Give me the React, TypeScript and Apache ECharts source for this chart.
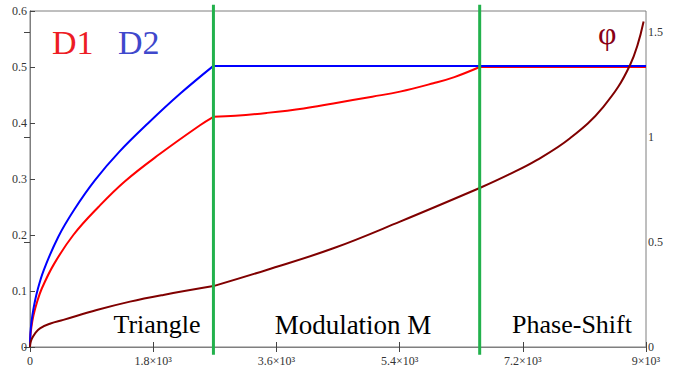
import React, { useEffect, useRef } from "react";
import * as echarts from "echarts";

// Duty cycles D1, D2 (left axis) and phase phi (right axis) versus x
const d1X = [0, 5, 20, 50, 100, 171, 350, 633, 1000, 1388, 1900, 2484, 2680, 3000, 3458, 4000, 4432, 5000, 5406, 5893, 6200, 6570, 9000];
const d1Y = [0, 0.018, 0.035, 0.056, 0.079, 0.104, 0.148, 0.2, 0.25, 0.296, 0.345, 0.396, 0.411, 0.413, 0.418, 0.426, 0.435, 0.447, 0.456, 0.471, 0.482, 0.5, 0.5];

const d2X = [0, 5, 20, 50, 107, 200, 414, 650, 950, 1300, 1729, 2200, 2680, 9000];
const d2Y = [0, 0.022, 0.043, 0.068, 0.1, 0.137, 0.197, 0.246, 0.298, 0.348, 0.4, 0.453, 0.502, 0.502];

const phiX = [0, 3, 10, 30, 70, 146, 300, 487, 975, 1461, 1948, 2680, 3458, 4432, 5406, 6570, 7000, 7403, 7890, 8377, 8767, 8965];
const phiY = [0, 0.013, 0.024, 0.042, 0.063, 0.089, 0.112, 0.129, 0.176, 0.216, 0.248, 0.29, 0.367, 0.47, 0.597, 0.757, 0.822, 0.89, 0.994, 1.144, 1.343, 1.55];

// Region boundaries (green vertical lines)
const regionBounds = [2680, 6570];
const regionLineY = [-0.014, 0.611];

const regionNames = ["Triangle", "Modulation M", "Phase-Shift"];

const xTickLabels: Record<number, string> = {
  0: "0",
  1800: "1.8×10³",
  3600: "3.6×10³",
  5400: "5.4×10³",
  7200: "7.2×10³",
  9000: "9×10³",
};

const SERIF = "'Liberation Serif', 'DejaVu Serif', serif";

// split a curve into smooth pieces at the region boundaries (sharp corners there)
function pieces(xs: number[], ys: number[]) {
  const out: number[][][] = [];
  let cur: number[][] = [];
  xs.forEach((x, i) => {
    cur.push([x, ys[i]]);
    if (regionBounds.includes(x) && i > 0 && i < xs.length - 1) {
      out.push(cur);
      cur = [[x, ys[i]]];
    }
  });
  if (cur.length > 1) out.push(cur);
  return out;
}

export default function App() {
  const ref = useRef<HTMLDivElement>(null);
  useEffect(() => {
    if (!ref.current) return;
    const chart = echarts.init(ref.current, undefined, { renderer: "svg" });
    const axisColor = "#7f7f7f";
    const labelStyle = { fontFamily: SERIF, fontSize: 12, color: "#333" };
    const curve = (name: string, xs: number[], ys: number[], color: string, yAxisIndex = 0) =>
      pieces(xs, ys).map((d) => ({
        name,
        type: "line",
        yAxisIndex,
        data: d,
        smooth: d.length > 2 ? 0.4 : false,
        symbol: "none",
        lineStyle: { color, width: 2 },
      }));
    chart.setOption({
      animation: false,
      backgroundColor: "#ffffff",
      grid: { left: 30, right: 33, top: 11, bottom: 29, show: true, borderColor: axisColor, borderWidth: 1 },
      xAxis: [
        {
          type: "value",
          min: 0,
          max: 9000,
          interval: 1800,
          position: "bottom",
          axisLine: { show: true, lineStyle: { color: axisColor } },
          axisTick: { show: true, inside: true, length: 5, lineStyle: { color: "#444" } },
          splitLine: { show: false },
          axisLabel: { ...labelStyle, margin: 8, formatter: (v: number) => xTickLabels[v] ?? "" },
        },
        {
          type: "value",
          min: 0,
          max: 9000,
          interval: 1800,
          position: "top",
          axisLine: { show: true, lineStyle: { color: axisColor } },
          axisTick: { show: true, inside: true, length: 5, lineStyle: { color: "#444" } },
          splitLine: { show: false },
          axisLabel: { show: false },
        },
      ],
      yAxis: [
        {
          type: "value",
          min: 0,
          max: 0.6,
          interval: 0.1,
          position: "left",
          axisLine: { show: true, lineStyle: { color: axisColor } },
          axisTick: { show: true, inside: true, length: 5, lineStyle: { color: "#444" } },
          splitLine: { show: false },
          axisLabel: { ...labelStyle, margin: 3, formatter: (v: number) => String(+v.toFixed(1)) },
        },
        {
          type: "value",
          min: 0,
          max: 1.6,
          interval: 0.5,
          position: "right",
          axisLine: { show: true, lineStyle: { color: axisColor } },
          axisTick: { show: true, inside: true, length: 6, lineStyle: { color: "#444" } },
          splitLine: { show: false },
          axisLabel: { ...labelStyle, margin: 2, showMaxLabel: false, formatter: (v: number) => String(+v.toFixed(1)) },
        },
      ],
      series: [
        ...curve("D1", d1X, d1Y, "#ff0000"),
        ...curve("D2", d2X, d2Y, "#0000ff"),
        ...curve("φ", phiX, phiY, "#800000", 1),
        ...regionBounds.map((b) => ({
          type: "line",
          data: regionLineY.map((y) => [b, y]),
          clip: false,
          symbol: "none",
          lineStyle: { color: "#22b14c", width: 3 },
          z: 5,
        })),
      ],
      graphic: [
        { type: "text", left: 52, top: 25, style: { text: "D1", font: `34px ${SERIF}`, fill: "#ed1c24" } },
        { type: "text", left: 118, top: 25, style: { text: "D2", font: `34px ${SERIF}`, fill: "#3f48cc" } },
        { type: "text", left: 598, top: 17, style: { text: "φ", font: `32px ${SERIF}`, fill: "#880015" } },
        { type: "text", x: 157, y: 311, style: { text: regionNames[0], font: `26px ${SERIF}`, fill: "#000", textAlign: "center" } },
        { type: "text", x: 353, y: 311, style: { text: regionNames[1], font: `27px ${SERIF}`, fill: "#000", textAlign: "center" } },
        { type: "text", x: 572, y: 311, style: { text: regionNames[2], font: `26px ${SERIF}`, fill: "#000", textAlign: "center" } },
      ],
    });
    return () => chart.dispose();
  }, []);
  return <div ref={ref} style={{ position: "fixed", left: 0, top: 0, width: 679, height: 376 }} />;
}
